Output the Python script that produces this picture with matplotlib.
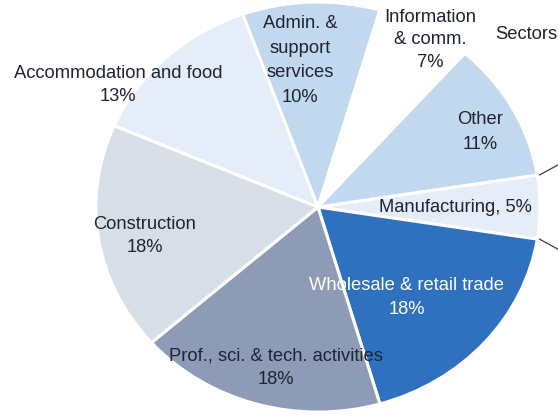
import numpy as np
import matplotlib.pyplot as plt

# sector shares (%), listed clockwise starting from the right-hand wedge
sectors = ['Manufacturing', 'Wholesale & retail trade', 'Prof., sci. & tech. activities',
           'Construction', 'Accommodation and food', 'Admin. &\nsupport\nservices',
           'Information\n& comm.', 'Other']
shares = [5, 18, 18, 18, 13, 10, 7, 11]
colors = ['#E4EDF8', '#2F71BF', '#8D9BB7', '#D8DEE8', '#E4EDF8', '#C2D8EF',
          '#FFFFFF', '#C2D8EF']

# where each label sits (pie units; the pie is drawn a bit wider than tall)
label_pos = [(0.62, 0.0), (0.40, -0.44), (-0.19, -0.785), (-0.78, -0.142),
             (-0.90, 0.595), (-0.08, 0.715), (0.505, 0.815), (0.73, 0.365)]
label_spacing = [1.0, 1.55, 1.5, 1.5, 1.5, 1.6, 1.4, 1.6]
text_col = '#1f2433'

plt.rcParams['font.family'] = ['Liberation Sans', 'DejaVu Sans']

fig = plt.figure(figsize=(5.58, 4.18), dpi=100)
ax = fig.add_axes([0, 0, 1, 1])

wedges, _ = ax.pie(shares, colors=colors, startangle=9, counterclock=False,
                   radius=1, wedgeprops=dict(edgecolor='white', linewidth=2.2))
ax.set_aspect('auto')
ax.set_xlim(-1.432, 1.081)
ax.set_ylim(-1.029, 1.010)
ax.axis('off')

for i, (name, val) in enumerate(zip(sectors, shares)):
    x, y = label_pos[i]
    if name == 'Manufacturing':
        txt = f'{name}, {val}%'
    else:
        txt = f'{name}\n{val}%'
    col = 'white' if i == 1 else text_col
    ax.text(x, y, txt, ha='center', va='center', fontsize=13.2, color=col,
            linespacing=label_spacing[i])

# leader lines from the manufacturing wedge out to the breakdown on the right
w = wedges[0]
for th, sgn in [(w.theta2, 1), (w.theta1, -1)]:
    a = np.deg2rad(th)
    x0, y0 = np.cos(a), np.sin(a)
    ax.plot([x0 + 0.01, x0 + 0.12], [y0, y0 + sgn * 0.065], color='#404040', lw=0.9,
            clip_on=False)

ax.text(0.80, 0.84, 'Sectors', ha='left', va='center', fontsize=13.2,
        color=text_col)

fig.savefig('out.png', dpi=100)
